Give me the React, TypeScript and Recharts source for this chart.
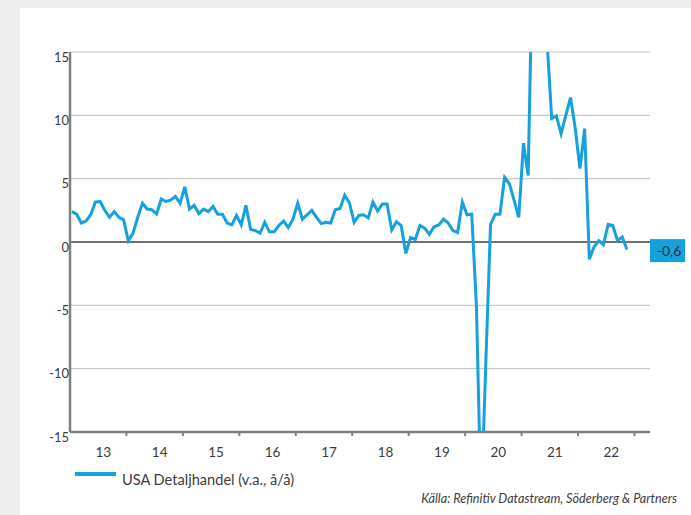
import React from 'react';
import { LineChart, Line, XAxis, YAxis, CartesianGrid, ReferenceLine, Legend } from 'recharts';

// Monthly year-on-year values (%)
const v2013 = [2.4, 2.2, 1.5, 1.65, 2.15, 3.15, 3.2, 2.5, 1.95, 2.4, 1.95, 1.75];
const v2014 = [0.1, 0.7, 1.95, 3.05, 2.6, 2.55, 2.2, 3.4, 3.2, 3.3, 3.6, 3.05];
const v2015 = [4.35, 2.6, 2.9, 2.25, 2.6, 2.4, 2.8, 2.2, 2.2, 1.5, 1.35, 2.1];
const v2016 = [1.35, 2.9, 1.0, 0.9, 0.7, 1.55, 0.8, 0.8, 1.3, 1.65, 1.15, 1.8];
const v2017 = [3.05, 1.8, 2.15, 2.5, 1.95, 1.45, 1.55, 1.5, 2.55, 2.65, 3.7, 3.1];
const v2018 = [1.55, 2.1, 2.15, 1.9, 3.15, 2.45, 3.0, 3.0, 0.95, 1.6, 1.3, -0.9];
const v2019 = [0.35, 0.2, 1.3, 1.1, 0.6, 1.2, 1.35, 1.8, 1.5, 0.9, 0.75, 3.15];
const v2020 = [2.15, 2.2, -5, -21, -9.5, 1.4, 2.2, 2.2, 5.1, 4.6, 3.3, 1.95];
const v2021 = [7.8, 5.25, 24, 45, 24, 16, 9.75, 9.95, 8.55, 10, 11.4, 9.0];
const v2022 = [5.8, 8.95, -1.35, -0.4, 0.1, -0.2, 1.4, 1.3, 0.1, 0.4, -0.6];

const years = [2013, 2014, 2015, 2016, 2017, 2018, 2019, 2020, 2021, 2022];
const yearSeries = [v2013, v2014, v2015, v2016, v2017, v2018, v2019, v2020, v2021, v2022];
const yearLabels = ['13', '14', '15', '16', '17', '18', '19', '20', '21', '22'];
const yTicks = [-15, -10, -5, 0, 5, 10, 15];
const xTicks = [2013, 2014, 2015, 2016, 2017, 2018, 2019, 2020, 2021, 2022, 2023];
const X_DOMAIN: [number, number] = [2013, 2023.275];

const seriesName = 'USA Detaljhandel (v.a., å/å)';
const sourceText = 'Källa: Refinitiv Datastream, Söderberg & Partners';

const data: { t: number; v: number }[] = [];
years.forEach((y, i) => {
  yearSeries[i].forEach((v, m) => data.push({ t: y + (m + 0.4) / 12, v }));
});
const lastValue = data[data.length - 1].v;

const BLUE = '#15a1dd';
const AXIS = '#7f7f7f';
const TEXT = '#3c3c3c';
const FONT = 'Lato, "Open Sans", sans-serif';

const YTick = (props: any) => {
  const { x, y, payload } = props;
  return (
    <text x={x} y={y + 9.5} textAnchor="end" fontSize={13} fontFamily={FONT} fill={TEXT}>
      {payload.value}
    </text>
  );
};

// Tick mark at each year boundary, year label centred in the year that follows
const XTick = (props: any) => {
  const { x, y, payload, width } = props;
  const year = payload.value as number;
  const pxPerYear = (width || 580) / (X_DOMAIN[1] - X_DOMAIN[0]);
  const idx = years.indexOf(year);
  return (
    <g>
      {year > X_DOMAIN[0] && <line x1={x} x2={x} y1={y} y2={y + 4} stroke={AXIS} strokeWidth={2} />}
      {idx >= 0 && (
        <text x={x + pxPerYear / 2 + 5} y={y + 25} textAnchor="middle" fontSize={13.5} fontFamily={FONT} fill={TEXT}>
          {yearLabels[idx]}
        </text>
      )}
    </g>
  );
};

const ValueBox = (props: any) => {
  const { x, y, payload } = props;
  const label = Number(payload.value).toFixed(1).replace('.', ',');
  return (
    <g>
      <rect x={x} y={y - 10.5} width={35} height={23} fill={BLUE} />
      <text x={x + 19} y={y + 6} textAnchor="middle" fontSize={14} fontFamily={FONT} fill="#1e3342">
        {label}
      </text>
    </g>
  );
};

const LegendContent = () => (
  <div style={{ display: 'flex', alignItems: 'flex-start', fontFamily: FONT }}>
    <span style={{ display: 'inline-block', width: 41, height: 4, background: BLUE, marginTop: 7 }} />
    <span style={{ marginLeft: 6, fontSize: 14.6, color: TEXT, lineHeight: '18px', marginTop: 6 }}>{seriesName}</span>
  </div>
);

export default function App() {
  return (
    <div style={{ position: 'absolute', left: 0, top: 0, width: 691, height: 515, background: '#efeeee', overflow: 'hidden' }}>
      <div style={{ position: 'absolute', left: 20, top: 8, right: 0, bottom: 0, background: '#ffffff' }} />
      <div style={{ position: 'absolute', left: 0, top: 0 }}>
        <LineChart width={691} height={515} data={data} margin={{ top: 52, right: 0, bottom: 53, left: 20 }}>
          <CartesianGrid vertical={false} stroke="#c8c8c8" strokeWidth={1.2} />
          <XAxis
            dataKey="t"
            type="number"
            domain={X_DOMAIN}
            ticks={xTicks}
            interval={0}
            allowDataOverflow
            tick={<XTick />}
            tickSize={0}
            tickMargin={0}
            tickLine={false}
            axisLine={{ stroke: AXIS, strokeWidth: 2.5 }}
            height={30}
          />
          <YAxis
            type="number"
            domain={[-15, 15]}
            ticks={yTicks}
            interval={0}
            allowDataOverflow
            width={50}
            tickLine={false}
            tickSize={0}
            tickMargin={1}
            axisLine={{ stroke: AXIS, strokeWidth: 2.5 }}
            tick={<YTick />}
          />
          <YAxis
            yAxisId="r"
            orientation="right"
            type="number"
            domain={[-15, 15]}
            ticks={[lastValue]}
            allowDataOverflow
            width={41}
            axisLine={false}
            tickLine={false}
            tickSize={0}
            tickMargin={0}
            tick={<ValueBox />}
          />
          <ReferenceLine y={0} stroke="#707070" strokeWidth={2} />
          <Line
            dataKey="v"
            name={seriesName}
            type="linear"
            stroke={BLUE}
            strokeWidth={3}
            dot={false}
            isAnimationActive={false}
          />
          <Legend
            layout="horizontal"
            verticalAlign="middle"
            align="center"
            content={<LegendContent />}
            wrapperStyle={{ top: 465, left: 75, width: 340, height: 24 }}
          />
        </LineChart>
      </div>
      <div
        style={{
          position: 'absolute',
          right: 14,
          top: 491,
          fontFamily: FONT,
          fontStyle: 'italic',
          fontSize: 12.6,
          color: TEXT,
          whiteSpace: 'nowrap',
        }}
      >
        {sourceText}
      </div>
    </div>
  );
}
